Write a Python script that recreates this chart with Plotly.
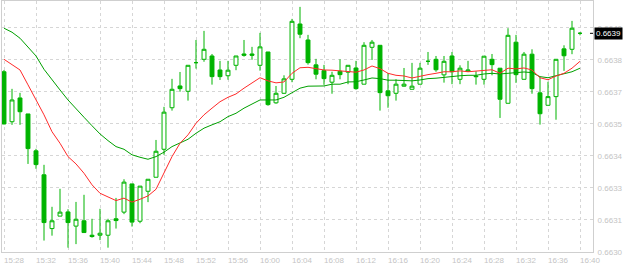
import pandas as pd
import plotly.graph_objects as go

times = pd.date_range("2024-01-01 15:28", periods=73, freq="1min")

open_ = [0.663776, 0.663551, 0.663658, 0.663586, 0.663420, 0.663312, 0.663070, 0.663126, 0.663145, 0.663081,
         0.663105, 0.663040, 0.663040, 0.663040, 0.663114, 0.663144, 0.663271, 0.663103, 0.663238, 0.663301,
         0.663427, 0.663614, 0.663712, 0.663688, 0.663817, 0.663832, 0.663847, 0.663784, 0.663758, 0.663805,
         0.663856, 0.663856, 0.663805, 0.663865, 0.663636, 0.663679, 0.663742, 0.663991, 0.663919, 0.663807,
         0.663781, 0.663729, 0.663778, 0.663774, 0.663793, 0.663720, 0.663886, 0.663895, 0.663690, 0.663679,
         0.663711, 0.663697, 0.663720, 0.663823, 0.663832, 0.663762, 0.663847, 0.663742, 0.663778, 0.663757,
         0.663742, 0.663832, 0.663792, 0.663634, 0.663909, 0.663742, 0.663855, 0.663681, 0.663625, 0.663664,
         0.663879, 0.663877, 0.663949]
high = [0.663784, 0.663699, 0.663681, 0.663586, 0.663429, 0.663357, 0.663168, 0.663249, 0.663157, 0.663190,
        0.663222, 0.663114, 0.663159, 0.663114, 0.663208, 0.663292, 0.663271, 0.663261, 0.663292, 0.663469,
        0.663618, 0.663744, 0.663775, 0.663805, 0.663919, 0.663960, 0.663856, 0.663825, 0.663825, 0.663847,
        0.663919, 0.663888, 0.663951, 0.663865, 0.663712, 0.663760, 0.664014, 0.664068, 0.663942, 0.663834,
        0.663807, 0.663776, 0.663832, 0.663805, 0.663825, 0.663909, 0.663919, 0.663895, 0.663770, 0.663742,
        0.663793, 0.663816, 0.663816, 0.663865, 0.663847, 0.663847, 0.663865, 0.663805, 0.663825, 0.663778,
        0.663846, 0.663856, 0.663792, 0.663972, 0.663942, 0.663865, 0.663877, 0.663751, 0.663731, 0.663832,
        0.663895, 0.664005, 0.663955]
low = [0.663539, 0.663537, 0.663537, 0.663361, 0.663339, 0.663016, 0.663038, 0.663126, 0.662984, 0.663000,
       0.663052, 0.663029, 0.663018, 0.662984, 0.663070, 0.663135, 0.663079, 0.663094, 0.663189, 0.663301,
       0.663402, 0.663601, 0.663686, 0.663646, 0.663790, 0.663821, 0.663718, 0.663739, 0.663740, 0.663783,
       0.663844, 0.663830, 0.663781, 0.663623, 0.663632, 0.663677, 0.663729, 0.663927, 0.663808, 0.663742,
       0.663717, 0.663677, 0.663742, 0.663720, 0.663695, 0.663720, 0.663829, 0.663601, 0.663614, 0.663646,
       0.663709, 0.663697, 0.663720, 0.663807, 0.663776, 0.663727, 0.663720, 0.663720, 0.663778, 0.663718,
       0.663718, 0.663760, 0.663568, 0.663634, 0.663726, 0.663742, 0.663677, 0.663538, 0.663625, 0.663560,
       0.663780, 0.663855, 0.663940]
close = [0.663541, 0.663649, 0.663596, 0.663430, 0.663358, 0.663097, 0.663105, 0.663144, 0.663097, 0.663112,
         0.663052, 0.663034, 0.663049, 0.663105, 0.663106, 0.663279, 0.663099, 0.663261, 0.663292, 0.663418,
         0.663594, 0.663697, 0.663700, 0.663805, 0.663817, 0.663877, 0.663754, 0.663754, 0.663783, 0.663847,
         0.663850, 0.663850, 0.663888, 0.663628, 0.663679, 0.663744, 0.664003, 0.663945, 0.663817, 0.663765,
         0.663745, 0.663760, 0.663763, 0.663805, 0.663700, 0.663895, 0.663909, 0.663682, 0.663668, 0.663720,
         0.663720, 0.663711, 0.663792, 0.663823, 0.663785, 0.663823, 0.663776, 0.663792, 0.663784, 0.663754,
         0.663846, 0.663808, 0.663652, 0.663940, 0.663763, 0.663855, 0.663700, 0.663587, 0.663664, 0.663832,
         0.663848, 0.663972, 0.663949]

ma_fast = [0.663832, 0.663807, 0.663784, 0.663717, 0.663649, 0.663582, 0.663506, 0.663454, 0.663394, 0.663361,
           0.663319, 0.663267, 0.663229, 0.663211, 0.663196, 0.663207, 0.663189, 0.663202, 0.663217, 0.663247,
           0.663319, 0.663394, 0.663454, 0.663492, 0.663544, 0.663582, 0.663612, 0.663641, 0.663661, 0.663676,
           0.663702, 0.663724, 0.663749, 0.663735, 0.663726, 0.663730, 0.663769, 0.663794, 0.663796, 0.663790,
           0.663784, 0.663783, 0.663780, 0.663780, 0.663774, 0.663784, 0.663802, 0.663790, 0.663769, 0.663760,
           0.663757, 0.663748, 0.663757, 0.663763, 0.663769, 0.663776, 0.663776, 0.663780, 0.663776, 0.663780,
           0.663783, 0.663785, 0.663769, 0.663792, 0.663789, 0.663793, 0.663784, 0.663749, 0.663740, 0.663757,
           0.663769, 0.663792, 0.663823]
ma_slow = [0.663972, 0.663954, 0.663927, 0.663889, 0.663847, 0.663787, 0.663739, 0.663694, 0.663649, 0.663612,
           0.663571, 0.663533, 0.663496, 0.663466, 0.663439, 0.663427, 0.663402, 0.663391, 0.663382, 0.663394,
           0.663414, 0.663439, 0.663457, 0.663472, 0.663499, 0.663522, 0.663537, 0.663551, 0.663574, 0.663589,
           0.663612, 0.663630, 0.663649, 0.663649, 0.663649, 0.663661, 0.663682, 0.663702, 0.663711, 0.663711,
           0.663712, 0.663720, 0.663720, 0.663730, 0.663731, 0.663739, 0.663748, 0.663745, 0.663738, 0.663738,
           0.663736, 0.663735, 0.663739, 0.663745, 0.663747, 0.663751, 0.663757, 0.663758, 0.663760, 0.663760,
           0.663766, 0.663769, 0.663766, 0.663770, 0.663774, 0.663775, 0.663772, 0.663754, 0.663749, 0.663757,
           0.663766, 0.663776, 0.663792]

y_tickvals = [0.662965, 0.663109, 0.663253, 0.663397, 0.663541, 0.663685, 0.663829, 0.663973]

GREEN = "#00b400"
LABEL = "#c4c4c4"
GRID = "#d6d6d6"
FONT = "Liberation Sans"

fig = go.Figure()
fig.add_trace(go.Candlestick(
    x=times, open=open_, high=high, low=low, close=close,
    increasing=dict(line=dict(color=GREEN, width=1), fillcolor="white"),
    decreasing=dict(line=dict(color=GREEN, width=1), fillcolor=GREEN),
    whiskerwidth=0, hoverinfo="skip", showlegend=False,
))
fig.add_trace(go.Scatter(x=times, y=ma_slow, mode="lines",
                         line=dict(color="#00a000", width=1),
                         hoverinfo="skip", showlegend=False))
fig.add_trace(go.Scatter(x=times, y=ma_fast, mode="lines",
                         line=dict(color="#ff2a2a", width=1),
                         hoverinfo="skip", showlegend=False))

last = close[-1]
fig.add_shape(type="line", xref="paper", yref="y", x0=0.9949, x1=1.0, y0=last, y1=last,
              line=dict(color="black", width=1))
fig.add_annotation(xref="paper", yref="y", x=1.0, y=last, xanchor="left", yanchor="middle",
                   xshift=1, text=f"{last:.4f}", showarrow=False,
                   font=dict(family=FONT, size=8, color="white"),
                   bgcolor="black", borderpad=1)

fig.update_layout(
    width=624, height=266,
    margin=dict(l=2, r=31, t=1, b=14),
    paper_bgcolor="white", plot_bgcolor="white",
    font=dict(family=FONT, size=8, color=LABEL),
    showlegend=False,
    xaxis=dict(
        type="date",
        range=["2024-01-01 15:27:45", "2024-01-01 16:41:37.5"],
        tick0="2024-01-01 15:28", dtick=240000, tickformat="%H:%M",
        showgrid=True, gridcolor=GRID, griddash="3px,3px", gridwidth=1,
        showline=True, linecolor="#cfcfcf", linewidth=1, mirror=True,
        ticks="", ticklabelshift=10, ticklabelstandoff=0,
        rangeslider=dict(visible=False), zeroline=False,
        tickfont=dict(family=FONT, size=8, color=LABEL),
    ),
    yaxis=dict(
        side="right",
        range=[0.6629645, 0.6640945],
        tickvals=y_tickvals, tickformat=".4f",
        showgrid=True, gridcolor=GRID, griddash="3px,3px", gridwidth=1,
        showline=True, linecolor="#cfcfcf", linewidth=1, mirror=True,
        ticks="", ticklabelstandoff=2, zeroline=False,
        tickfont=dict(family=FONT, size=8, color=LABEL),
    ),
)

fig.write_html("out.html")
